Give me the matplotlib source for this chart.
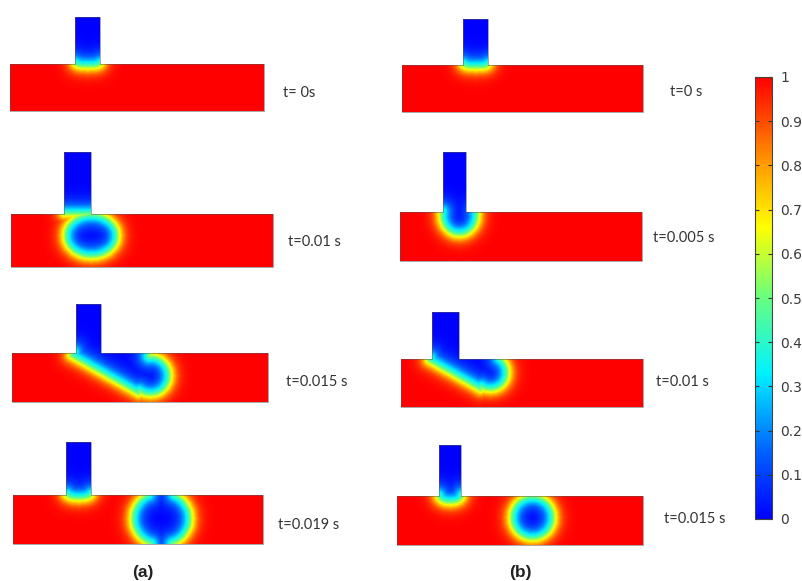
import numpy as np
import matplotlib
matplotlib.use("Agg")
import matplotlib.pyplot as plt
from matplotlib.colors import LinearSegmentedColormap, Normalize
from matplotlib.path import Path
from matplotlib.patches import PathPatch
import matplotlib.colorbar as mcolorbar

# ---------------- data ----------------
time_labels_a = ["t= 0s", "t=0.01 s", "t=0.015 s", "t=0.019 s"]
time_labels_b = ["t=0 s", "t=0.005 s", "t=0.01 s", "t=0.015 s"]
panel_titles = ["(a)", "(b)"]
cbar_ticks = [0, 0.1, 0.2, 0.3, 0.4, 0.5, 0.6, 0.7, 0.8, 0.9, 1.0]
cbar_ticklabels = ["0", "0.1", "0.2", "0.3", "0.4", "0.5", "0.6", "0.7", "0.8", "0.9", "1"]

# dispersed-phase shapes (pixel units of each panel)
# ("ell", cx, cy, rx, ry, angle_deg), ("poly", [(x, y), ...])
drops_a = [
    [("ell", 87.5, 64.5, 12, 2.5, 0)],
    [("ell", 91, 236, 26, 21, 0)],
    [("poly", [(76, 350), (70, 356), (138, 394), (150, 350)]), ("ell", 150, 376, 19, 19, 0)],
    [("ell", 78.5, 495, 12, 4, 0), ("ell", 161, 519, 29, 27, 0)],
]
drops_b = [
    [("ell", 475.5, 65.5, 12, 2.5, 0)],
    [("ell", 459, 215, 18, 20, 0)],
    [("poly", [(432, 356), (428, 361), (480, 390), (491, 356)]), ("ell", 490, 373, 17, 17, 0)],
    [("ell", 450, 496, 12, 7, 0), ("ell", 532, 518, 21, 21, 0)],
]

# ---------------- layout ----------------
W, H = 803, 581
channels_a = [(10, 64, 264, 111), (11, 214, 273, 267), (12, 353, 268, 402), (13, 495, 263, 544)]
inlets_a = [(75, 17, 100), (64, 152, 91), (76, 304, 101), (66, 442, 91)]
label_pos_a = [(283, 93), (288, 242), (286, 382), (278, 525)]
channels_b = [(402, 65, 643, 112), (400, 212, 642, 261), (401, 359, 643, 407), (397, 496, 643, 545)]
inlets_b = [(463, 19, 488), (443, 152, 466), (432, 312, 459), (439, 445, 461)]
label_pos_b = [(670, 92), (653, 238), (656, 382), (664, 519)]
title_pos = [(143, 572), (520, 572)]

cmap = LinearSegmentedColormap.from_list("comsol_rainbow", [
    (0.00, (0.0, 0.0, 1.0)),
    (0.15, (0.0, 0.38, 1.0)),
    (0.33, (0.0, 0.95, 1.0)),
    (0.50, (0.40, 1.0, 0.50)),
    (0.66, (1.0, 1.0, 0.0)),
    (0.80, (1.0, 0.62, 0.0)),
    (0.90, (1.0, 0.30, 0.0)),
    (1.00, (1.0, 0.0, 0.0)),
])

EPS_IN, EPS_OUT, STEP = 11.0, 8.5, 0.5


def in_shape(X, Y, s):
    if s[0] == "ell":
        _, cx, cy, rx, ry, ang = s
        a = np.deg2rad(ang)
        dx, dy = X - cx, Y - cy
        u = dx * np.cos(a) + dy * np.sin(a)
        v = -dx * np.sin(a) + dy * np.cos(a)
        return (u / rx) ** 2 + (v / ry) ** 2 <= 1.0
    pth = Path(s[1] + [s[1][0]], closed=True)
    return pth.contains_points(np.column_stack([X.ravel(), Y.ravel()])).reshape(X.shape)


def draw_panel(ax, chan, inlet, shapes):
    cx0, cy0, cx1, cy1 = chan
    ix0, iy0, ix1 = inlet
    xs = np.arange(cx0, cx1 + STEP / 2, STEP)
    ys = np.arange(iy0, cy1 + STEP / 2, STEP)
    X, Y = np.meshgrid(xs, ys)
    chan_m = (X >= cx0) & (X <= cx1) & (Y >= cy0) & (Y <= cy1)
    inl_m = (X >= ix0) & (X <= ix1) & (Y >= iy0) & (Y <= cy0)
    dom = chan_m | inl_m
    S = inl_m.copy()
    for s in shapes:
        S |= in_shape(X, Y, s)
    S &= dom
    C = dom & ~S
    nb = np.zeros_like(C)
    nb[1:, :] |= C[:-1, :]
    nb[:-1, :] |= C[1:, :]
    nb[:, 1:] |= C[:, :-1]
    nb[:, :-1] |= C[:, 1:]
    iface = S & nb
    q = np.column_stack([X[iface], Y[iface]])
    P = np.column_stack([X.ravel(), Y.ravel()])
    d = np.empty(len(P))
    for k in range(0, len(P), 3000):
        p = P[k:k + 3000]
        d2 = ((p[:, None, 0] - q[None, :, 0]) ** 2 + (p[:, None, 1] - q[None, :, 1]) ** 2).min(1)
        d[k:k + 3000] = np.sqrt(d2)
    d = d.reshape(X.shape)
    d = np.where(S, -d, d)
    phi = np.where(d < 0, 0.5 * (1 + np.tanh(d / EPS_IN)), 0.5 * (1 + np.tanh(d / EPS_OUT)))

    verts = [(cx0, cy0), (ix0, cy0), (ix0, iy0), (ix1, iy0), (ix1, cy0), (cx1, cy0),
             (cx1, cy1), (cx0, cy1), (cx0, cy0)]
    path = Path(verts, closed=True)
    patch = PathPatch(path, facecolor="none", edgecolor="#555555", lw=0.6, alpha=0.6, zorder=3)
    ax.add_patch(patch)
    im = ax.imshow(phi, cmap=cmap, vmin=0, vmax=1, origin="upper",
                   extent=(cx0 - STEP / 2, cx1 + STEP / 2, cy1 + STEP / 2, iy0 - STEP / 2),
                   interpolation="bilinear", zorder=2)
    im.set_clip_path(patch)


fig = plt.figure(figsize=(W / 100, H / 100), dpi=100)
ax = fig.add_axes([0, 0, 1, 1])
ax.set_xlim(0, W)
ax.set_ylim(H, 0)
ax.axis("off")

tfont = dict(family=["Lato", "DejaVu Sans"], fontsize=10.5, color="#333333", va="center", ha="left")
for chans, inls, drops, labels, lpos in [
    (channels_a, inlets_a, drops_a, time_labels_a, label_pos_a),
    (channels_b, inlets_b, drops_b, time_labels_b, label_pos_b),
]:
    for chan, inl, dr, lab, lp in zip(chans, inls, drops, labels, lpos):
        draw_panel(ax, chan, inl, dr)
        ax.text(lp[0], lp[1], lab, **tfont)

for t, (x, y) in zip(panel_titles, title_pos):
    ax.text(x, y, t, family=["Liberation Sans", "DejaVu Sans"], fontsize=12.5, fontweight="bold",
            color="#222222", ha="center", va="center")

# colorbar
cax = fig.add_axes([755 / W, 1 - 519 / H, 17 / W, 442 / H])
cb = mcolorbar.ColorbarBase(cax, cmap=cmap, norm=Normalize(0, 1), orientation="vertical")
cb.set_ticks(cbar_ticks)
cb.set_ticklabels(cbar_ticklabels)
cb.outline.set_edgecolor("#444444")
cb.outline.set_linewidth(0.8)
cax.tick_params(direction="in", length=3, width=0.8, color="#333333", left=True, right=True,
                labelleft=False, labelright=True, labelsize=10, labelcolor="#3a3a3a", pad=6)

fig.savefig("out.png", dpi=100)
